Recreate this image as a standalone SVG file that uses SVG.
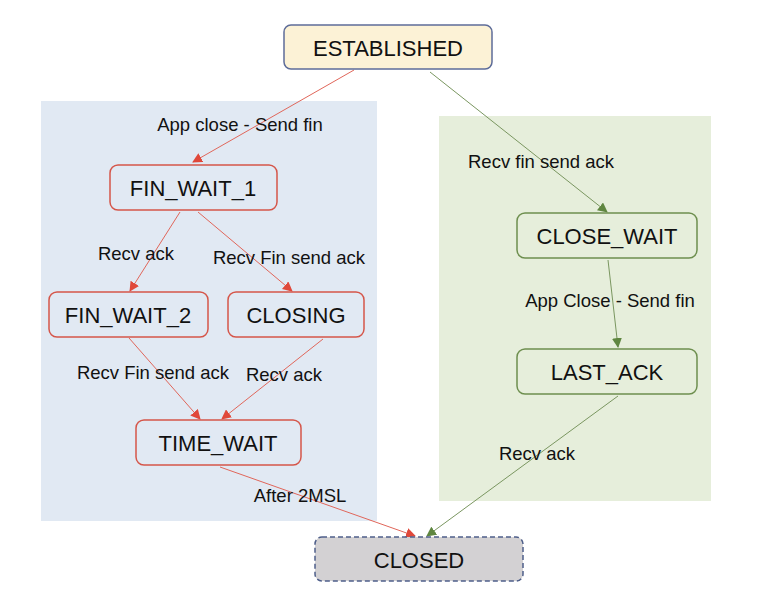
<svg xmlns="http://www.w3.org/2000/svg" width="780" height="616" viewBox="0 0 780 616">
<style>
text{font-family:"Liberation Sans",Arial,sans-serif;fill:#111;text-anchor:middle;dominant-baseline:central}
.n{font-size:22px}
.l{font-size:18.5px}
.r{fill:none;stroke:#d5564a;stroke-width:1.5}
.g{fill:none;stroke:#6e8f4f;stroke-width:1.5}
.er{stroke:#e0665a;stroke-width:1;fill:none;marker-end:url(#ar)}
.eg{stroke:#7a9660;stroke-width:1;fill:none;marker-end:url(#ag)}
</style>
<defs>
<marker id="ar" viewBox="0 0 10 10" refX="9" refY="5" markerWidth="10" markerHeight="10" markerUnits="userSpaceOnUse" orient="auto"><path d="M0,0L10,5L0,10z" fill="#e0483a"/></marker>
<marker id="ag" viewBox="0 0 10 10" refX="9" refY="5" markerWidth="10" markerHeight="10" markerUnits="userSpaceOnUse" orient="auto"><path d="M0,0L10,5L0,10z" fill="#5f8640"/></marker>
</defs>
<rect width="780" height="616" fill="#fff"/>
<rect x="41" y="101" width="336" height="420" fill="#e1e9f3"/>
<rect x="439" y="116" width="272" height="385" fill="#e6eedb"/>
<g id="edges">
<line class="er" x1="354" y1="70" x2="193" y2="162"/>
<line class="eg" x1="430" y1="72" x2="607" y2="212"/>
<line class="er" x1="180" y1="212" x2="130" y2="291"/>
<line class="er" x1="198" y1="212" x2="292" y2="291"/>
<line class="er" x1="129" y1="338" x2="200" y2="419"/>
<line class="er" x1="323" y1="339" x2="222" y2="419"/>
<line class="er" x1="220" y1="467" x2="415" y2="536"/>
<line class="eg" x1="618" y1="396" x2="427" y2="536"/>
<line class="eg" x1="608" y1="260" x2="618" y2="347"/>
<text class="l" x="240" y="124">App close - Send fin</text>
<text class="l" x="136" y="253">Recv ack</text>
<text class="l" x="289" y="257">Recv Fin send ack</text>
<text class="l" x="153" y="372">Recv Fin send ack</text>
<text class="l" x="284" y="374">Recv ack</text>
<text class="l" x="300" y="495">After 2MSL</text>
<text class="l" x="541" y="161">Recv fin send ack</text>
<text class="l" x="610" y="300">App Close - Send fin</text>
<text class="l" x="537" y="453">Recv ack</text>
</g>
<g id="established"><rect x="284" y="25" width="208" height="44" rx="7" fill="#fcf2d6" stroke="#5d6c99" stroke-width="1.5"/><text class="n" x="388" y="48">ESTABLISHED</text></g>
<g id="fin_wait_1"><rect class="r" x="110" y="165" width="167" height="45" rx="8"/><text class="n" x="193" y="188">FIN_WAIT_1</text></g>
<g id="fin_wait_2"><rect class="r" x="49" y="292" width="159" height="45" rx="8"/><text class="n" x="128" y="315">FIN_WAIT_2</text></g>
<g id="closing"><rect class="r" x="228" y="292" width="136" height="45" rx="8"/><text class="n" x="296" y="315">CLOSING</text></g>
<g id="time_wait"><rect class="r" x="136" y="420" width="165" height="45" rx="8"/><text class="n" x="218" y="443">TIME_WAIT</text></g>
<g id="close_wait"><rect class="g" x="517" y="213" width="180" height="45" rx="8"/><text class="n" x="607" y="236">CLOSE_WAIT</text></g>
<g id="last_ack"><rect class="g" x="517" y="349" width="180" height="45" rx="8"/><text class="n" x="607" y="372">LAST_ACK</text></g>
<g id="closed"><rect x="315" y="537" width="208" height="44" rx="7" fill="#d3d1d3" stroke="#4f5f8a" stroke-width="1.5" stroke-dasharray="5,3"/><text class="n" x="419" y="560">CLOSED</text></g>
</svg>
